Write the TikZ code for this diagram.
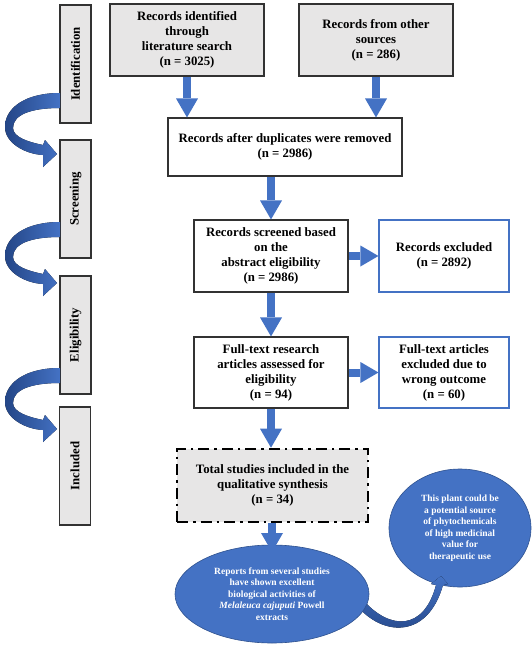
\documentclass[tikz,border=0pt]{standalone}
\usepackage{fontspec}
\setmainfont{Liberation Serif}
\usetikzlibrary{arrows.meta,shapes.geometric}
\definecolor{arrowblue}{RGB}{68,114,196}
\definecolor{darkblue}{RGB}{36,70,135}
\definecolor{boxgray}{RGB}{231,230,230}
\definecolor{edgeblue}{RGB}{47,82,143}
\definecolor{boxedge}{RGB}{50,50,50}
\newcommand{\stagecurve}[1]{%
  \fill[shift={(0,#1)}, left color=darkblue, right color=arrowblue]
    (60,0) .. controls (25,0) and (5,15) .. (5,34)
    .. controls (5,50) and (25,61) .. (43,62)
    -- (43,74) -- (57,61) -- (45,47) -- (43,52)
    .. controls (28,49) and (13,44) .. (13,35)
    .. controls (13,22) and (30,15) .. (60,15) -- cycle;}
\begin{document}
\begin{tikzpicture}[x=1pt,y=-1pt,
  font=\bfseries\fontsize{12.8}{15}\selectfont,
  stagebox/.style={draw=boxedge, line width=1.2pt, fill=boxgray, rotate=90,
    minimum width=118pt, minimum height=31pt, inner sep=0pt},
  greybox/.style={draw=boxedge, line width=1.1pt, fill=boxgray, align=center, inner sep=2pt},
  whitebox/.style={draw=boxedge, line width=1.1pt, fill=white, align=center, inner sep=2pt},
  bluebox/.style={draw=arrowblue, line width=1.1pt, fill=white, align=center, inner sep=2pt},
  dashbox/.style={draw=black, line width=2.6pt, dash pattern=on 11pt off 5pt on 2.5pt off 5pt,
    fill=boxgray, align=center, inner sep=2pt},
  ell/.style={ellipse, fill=arrowblue, draw=edgeblue, line width=0.6pt, text=white,
    inner sep=0pt, align=center, font=\bfseries\fontsize{9.5}{11.5}\selectfont},
  bigarrow/.style={draw=arrowblue, line width=8pt,
    -{Triangle[length=19pt,width=22pt,line width=0pt]}},
  sidearrow/.style={draw=arrowblue, line width=8pt,
    -{Triangle[length=18pt,width=21pt,line width=0pt]}}]
\useasboundingbox (0,0) rectangle (532,646);
\fill[white] (0,0) rectangle (532,646);

% stage column
\node[stagebox] (s1) at (75.5,64) {Identification};
\node[stagebox] (s2) at (75.5,199) {Screening};
\node[stagebox] (s3) at (75.5,335) {Eligibility};
\node[stagebox] (s4) at (75,466) {Included};
\stagecurve{93}
\stagecurve{222}
\stagecurve{368}

% flow boxes
\node[greybox, minimum width=154pt, minimum height=72pt] (b1) at (187,40)
  {Records identified\\through\\literature search\\(n = 3025)};
\node[greybox, minimum width=154pt, minimum height=72pt] (b2) at (376,40)
  {Records from other\\sources\\(n = 286)};
\node[whitebox, minimum width=234pt, minimum height=58pt] (b3) at (285,147)
  {Records after duplicates were removed\\(n = 2986)};
\node[whitebox, minimum width=154pt, minimum height=72pt] (b4) at (271,256)
  {Records screened based\\on the\\abstract eligibility\\(n = 2986)};
\node[bluebox, minimum width=130pt, minimum height=72pt] (b5) at (444,256)
  {Records excluded\\(n = 2892)};
\node[whitebox, minimum width=154pt, minimum height=71pt] (b6) at (271,372.5)
  {Full-text research\\articles assessed for\\eligibility\\(n = 94)};
\node[bluebox, minimum width=130pt, minimum height=71pt] (b7) at (444,372.5)
  {Full-text articles\\excluded due to\\wrong outcome\\(n = 60)};
\node[dashbox, minimum width=191pt, minimum height=73pt] (b8) at (272.5,485.5)
  {Total studies included in the\\qualitative synthesis\\(n = 34)};

% ellipses and curved arrow
\node[ell, minimum width=142pt, minimum height=118pt] (e2) at (460,528)
  {This plant could be\\a potential source\\of phytochemicals\\of high medicinal\\value for\\therapeutic use};
\fill[top color=arrowblue, bottom color=darkblue]
  (360,609) .. controls (385,636) and (428,638) .. (443,585)
  -- (448,584) -- (441,576) -- (431,584) -- (436,585)
  .. controls (424,631) and (390,630) .. (364,601) -- cycle;
\node[ell, minimum width=194pt, minimum height=98pt] (e1) at (272,594)
  {Reports from several studies\\have shown excellent\\biological activities of\\\textit{Melaleuca cajuputi} Powell\\extracts};
\coordinate (e1tip) at (272,552);

% connectors
\draw[bigarrow] (b1.south) -- (b1.south |- b3.north);
\draw[bigarrow] (b2.south) -- (b2.south |- b3.north);
\draw[bigarrow] (b3.south -| b4.north) -- (b4.north);
\draw[bigarrow] (b4.south) -- (b6.north);
\draw[bigarrow] (b6.south) -- (b6.south |- b8.north);
\draw[bigarrow] (b8.south -| e1tip) -- (e1tip);
\draw[sidearrow] (b4.east) -- (b5.west);
\draw[sidearrow] (b6.east) -- (b7.west);
\end{tikzpicture}
\end{document}
